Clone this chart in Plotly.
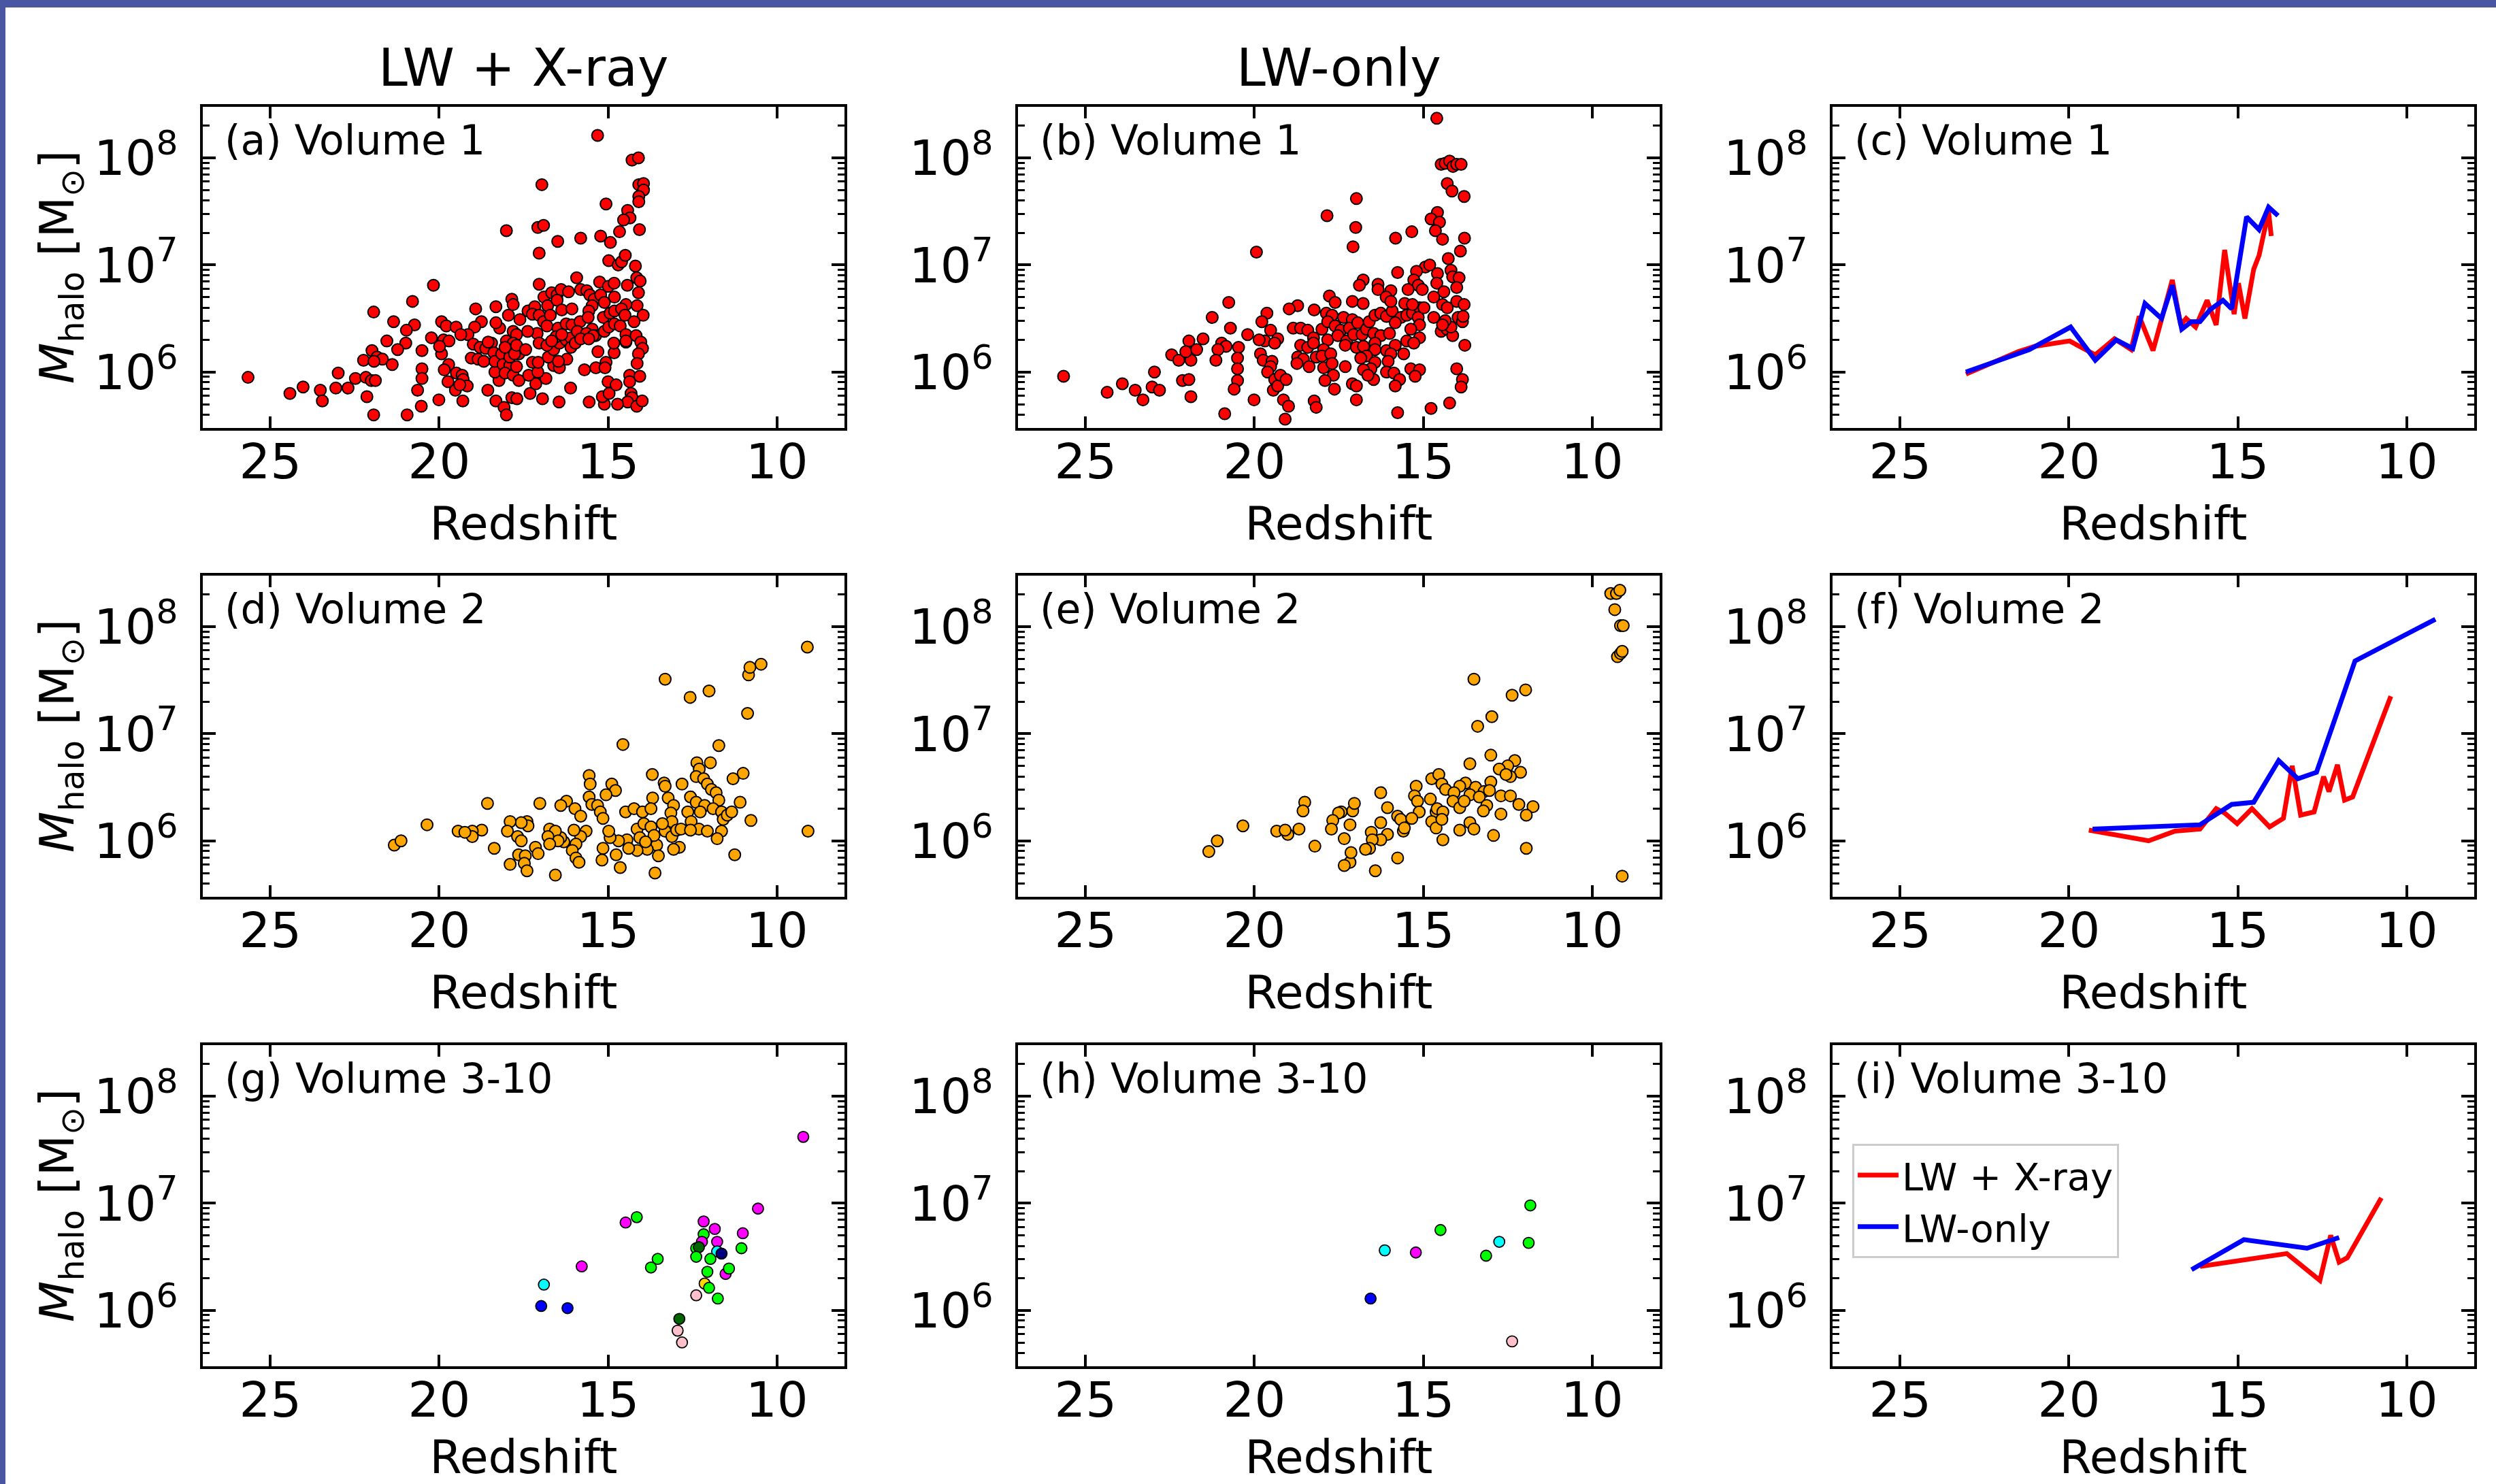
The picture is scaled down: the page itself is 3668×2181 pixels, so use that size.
import plotly.graph_objects as go

# ---------------- data (redshift z, log10 of halo mass in Msun) ----------------
a_z = [25.66, 18.01, 20.17, 20.79, 21.94, 21.35, 20.73, 20.97, 19.93, 19.79, 19.50, 20.23, 21.55, 20.99, 21.23,
       20.51, 21.99, 21.84, 21.68, 22.24, 21.93, 21.39, 19.93, 19.87, 19.71, 19.99, 19.72, 19.85, 20.51, 20.51,
       22.99, 22.48, 22.17, 22.01, 21.89, 23.06, 22.70, 24.03, 24.42, 23.52, 23.46, 22.14, 21.94, 20.95, 20.64,
       20.53, 20.01, 19.49, 19.32, 19.29, 19.17, 19.74, 19.52, 19.39, 19.30, 18.56, 18.32, 18.08, 18.01, 18.23,
       18.35, 18.92, 18.32, 18.75, 18.21, 18.32, 17.95, 17.85, 17.81, 18.95, 19.15, 18.99, 18.79, 18.62, 18.45,
       18.38, 19.05, 18.85, 18.68, 18.35, 18.15, 18.01, 17.91, 18.11, 17.91, 18.05, 17.81, 17.81, 17.85, 19.36,
       18.55,
       15.31, 14.29, 14.10, 16.96, 14.09, 13.95, 13.95, 14.09, 14.09, 15.06, 14.42, 14.35, 14.54, 17.08, 16.91,
       16.49, 15.81, 15.22, 14.93, 14.66, 14.07, 17.04, 14.98, 14.70, 14.60, 14.49, 14.19, 17.04, 15.93, 15.25,
       14.99, 14.82, 14.43, 14.15, 14.05, 14.10, 14.14, 13.96, 17.61, 17.37, 17.17, 16.90, 16.79, 16.67, 16.51,
       16.39, 16.17, 15.81, 15.63, 15.54, 15.41, 15.22, 15.11, 14.81, 14.47, 16.51, 16.37, 16.07, 15.47, 15.57,
       15.14, 14.94, 14.81, 14.60, 14.50, 14.23, 17.24, 17.04, 16.91, 16.71, 16.81, 16.48, 16.24, 16.07, 15.83,
       15.59, 15.47, 15.37, 15.11, 14.98, 14.81, 14.64, 14.47, 14.47, 14.17, 14.03, 13.98, 14.10, 14.14, 14.36,
       14.36, 14.06, 14.32, 14.29, 14.42, 14.15, 13.99, 14.72, 15.11, 15.17, 14.97, 15.00, 14.76, 15.56, 16.11,
       16.45, 16.94, 17.70, 17.31, 17.14, 16.84, 17.64, 17.35, 17.08, 16.61, 16.44, 16.22, 15.70, 15.36, 15.30,
       15.06, 15.09, 14.82, 14.83, 14.47, 17.71, 17.64, 17.91, 17.24, 17.07, 16.77, 16.61, 16.44, 16.24, 16.10,
       15.91, 15.64, 15.44, 17.10, 17.38, 17.04, 17.71, 17.81, 18.05, 17.77, 17.71, 17.44, 16.10, 15.97, 16.54,
       16.37, 15.81, 15.57, 16.81, 16.67, 16.47]
a_logm = [5.95, 7.32, 6.81, 6.66, 6.56, 6.47, 6.44, 6.39, 6.47, 6.43, 6.42, 6.32, 6.29, 6.27, 6.21,
          6.20, 6.20, 6.14, 6.12, 6.11, 6.10, 6.07, 6.17, 6.30, 6.29, 6.24, 6.07, 6.02, 6.03, 5.94,
          5.99, 5.94, 5.95, 5.92, 5.92, 5.85, 5.85, 5.86, 5.80, 5.83, 5.73, 5.77, 5.60, 5.60, 5.83,
          5.68, 5.74, 5.99, 5.97, 5.93, 5.87, 5.91, 5.83, 5.88, 5.73, 5.83, 5.73, 5.67, 5.60, 5.92,
          6.00, 6.59, 6.61, 6.47, 6.41, 6.46, 6.53, 6.68, 6.63, 6.42, 6.35, 6.26, 6.23, 6.22, 6.27,
          6.18, 6.13, 6.12, 6.10, 6.10, 6.17, 6.29, 6.19, 6.07, 6.06, 5.99, 6.38, 5.97, 5.76, 6.35,
          6.28,
          8.21, 7.98, 8.00, 7.75, 7.75, 7.76, 7.70, 7.64, 7.59, 7.57, 7.51, 7.44, 7.42, 7.35, 7.37,
          7.22, 7.25, 7.27, 7.21, 7.31, 7.33, 7.11, 7.04, 7.00, 7.03, 7.09, 6.99, 6.82, 6.88, 6.84,
          6.80, 6.83, 6.81, 6.88, 6.85, 6.74, 6.62, 6.53, 6.49, 6.57, 6.61, 6.70, 6.62, 6.74, 6.72,
          6.77, 6.75, 6.77, 6.76, 6.72, 6.68, 6.72, 6.65, 6.70, 6.63, 6.67, 6.58, 6.59, 6.62, 6.57,
          6.51, 6.55, 6.57, 6.59, 6.53, 6.47, 6.54, 6.53, 6.47, 6.53, 6.43, 6.41, 6.45, 6.44, 6.47,
          6.51, 6.40, 6.34, 6.38, 6.42, 6.45, 6.43, 6.35, 6.28, 6.34, 6.28, 6.22, 6.17, 6.08, 5.97,
          5.91, 5.96, 5.80, 5.76, 5.72, 5.68, 5.73, 5.70, 5.70, 5.77, 5.80, 5.91, 5.88, 5.72, 5.85,
          5.72, 5.75, 5.75, 5.80, 5.89, 5.94, 5.92, 5.97, 6.00, 6.06, 6.04, 6.12, 6.02, 6.04, 6.19,
          6.09, 6.04, 6.18, 6.27, 6.29, 6.05, 6.17, 6.14, 6.09, 6.09, 6.14, 6.21, 6.27, 6.30, 6.32,
          6.38, 6.36, 6.34, 6.36, 6.38, 6.27, 6.35, 6.27, 6.23, 6.17, 6.25, 6.21, 6.23, 6.27, 6.33,
          6.35, 6.31, 6.31, 6.25, 6.29, 6.10]

b_z = [25.65, 24.36, 23.91, 23.53, 23.30, 22.96, 23.03, 22.81, 22.13, 21.94, 21.88, 22.45, 22.24, 21.88, 21.94,
       22.03, 21.71, 21.52, 21.25, 20.76, 20.71, 20.20, 20.97, 20.84, 21.08, 21.14, 20.47, 20.50, 20.50, 20.50,
       20.60, 20.88, 20.01, 19.94, 19.63, 19.78, 19.52, 19.69, 19.86, 19.31, 19.40, 19.82, 19.74, 19.48, 19.52,
       19.61, 19.40, 19.44, 19.31, 19.23, 19.06, 19.14, 18.99, 19.09,
       18.72, 18.97, 18.23, 18.85, 18.63, 18.42, 18.63, 18.42, 18.25, 18.25, 18.00, 17.83, 17.95, 18.72, 18.55,
       18.38, 18.17, 18.00, 17.74, 17.95, 17.70, 17.66, 17.91, 17.63, 18.23, 18.17, 18.74,
       17.87, 17.70, 17.83, 17.61, 17.36, 17.10, 17.44, 17.19, 16.94, 17.53, 17.27, 17.06, 17.31, 16.98, 16.81,
       16.68, 16.60, 16.43, 16.26, 16.09, 15.92, 15.66, 15.83, 15.49, 15.32, 15.11, 15.15, 15.11, 15.37, 15.49,
       15.11, 15.28, 16.47, 16.26, 16.00, 16.43, 16.43, 16.77, 16.68, 16.85, 16.43, 16.55, 16.47, 16.77, 16.64,
       16.09, 15.83, 15.58, 15.96, 16.04, 16.09, 15.87, 15.70, 15.83, 15.37, 15.11, 15.24, 17.31, 17.10, 16.98,
       16.98, 15.76, 14.77, 14.22, 14.01, 13.84, 13.88, 13.77, 14.69, 14.47, 14.30, 14.13, 14.18, 14.35, 14.43,
       13.97, 13.84, 13.82,
       16.98, 17.85, 17.00, 17.08,
       14.60, 14.47, 14.35, 14.22, 14.12, 14.01, 13.88, 14.29, 14.15, 13.79, 14.58, 14.77, 14.52, 14.64, 14.43,
       15.34, 15.82, 13.78, 13.90, 14.26, 15.76, 14.94, 14.81, 15.20, 14.18, 14.13, 13.94, 14.58, 14.60, 15.28,
       15.15, 15.03, 15.45, 14.01, 14.39, 14.69, 16.78, 16.89, 16.34, 16.34, 15.96, 16.10, 15.96, 17.78, 17.61,
       17.10, 16.78, 14.01, 13.79, 14.43, 14.29, 15.55, 15.32, 14.98]
b_logm = [5.96, 5.81, 5.89, 5.83, 5.74, 6.00, 5.86, 5.83, 5.92, 5.93, 5.77, 6.16, 6.11, 6.11, 6.29,
          6.19, 6.21, 6.31, 6.51, 6.65, 6.41, 6.35, 6.27, 6.24, 6.21, 6.11, 6.23, 6.13, 6.03, 5.92,
          5.84, 5.61, 5.74, 7.12, 6.55, 6.47, 6.39, 6.29, 6.30, 6.31, 6.27, 6.17, 6.11, 6.10, 6.05,
          6.00, 5.93, 5.83, 5.87, 5.97, 5.93, 5.74, 5.68, 5.56,
          6.62, 6.59, 6.58, 6.41, 6.41, 6.39, 6.25, 6.23, 6.32, 6.27, 6.40, 6.30, 6.21, 6.14, 6.12,
          6.05, 6.14, 6.15, 6.17, 6.04, 6.08, 5.97, 5.92, 5.84, 5.73, 5.67, 6.08,
          6.55, 6.53, 6.47, 6.43, 6.51, 6.49, 6.39, 6.41, 6.46, 6.34, 6.29, 6.35, 6.25, 6.23, 6.35,
          6.40, 6.47, 6.53, 6.55, 6.52, 6.57, 6.51, 6.46, 6.53, 6.55, 6.60, 6.51, 6.44, 6.40, 6.29,
          6.32, 6.27, 6.36, 6.34, 6.36, 6.27, 6.21, 6.24, 6.15, 6.13, 6.09, 6.03, 5.93, 6.02, 5.97,
          6.20, 6.25, 6.17, 6.17, 6.10, 6.00, 5.99, 5.93, 5.87, 6.03, 6.02, 5.96, 6.05, 5.89, 5.87,
          5.74, 5.62, 5.66, 5.71, 6.03, 5.93, 5.86, 6.25, 6.51, 6.38, 6.40, 6.34, 6.42, 6.48, 6.44,
          6.51, 6.47, 6.52,
          7.62, 7.46, 7.35, 7.17,
          8.37, 7.94, 7.95, 7.97, 7.92, 7.94, 7.94, 7.76, 7.69, 7.64, 7.49, 7.43, 7.40, 7.32, 7.24,
          7.31, 7.25, 7.25, 7.13, 7.06, 6.93, 6.98, 7.00, 6.94, 6.95, 6.89, 6.88, 6.92, 6.83, 6.86,
          6.81, 6.77, 6.77, 6.79, 6.75, 6.70, 6.86, 6.81, 6.82, 6.77, 6.76, 6.70, 6.66, 6.71, 6.65,
          6.66, 6.64, 6.66, 6.63, 6.63, 6.60, 6.64, 6.63, 6.60]

d_z = [9.10, 10.84, 10.80, 10.47, 13.31, 12.01, 12.57, 10.87, 14.56, 11.72, 12.37, 11.97, 12.30, 12.39, 11.00,
       11.30, 15.56, 15.53, 13.69, 13.34, 13.31, 12.81, 14.89, 14.78, 12.17, 12.06, 11.94, 11.80, 11.72, 15.06,
       15.56, 15.48, 13.68, 13.22, 13.06, 12.56, 18.57, 17.02, 16.23, 16.40, 15.98, 15.31, 15.23, 15.15, 15.81,
       14.48, 14.23, 13.98, 13.73, 13.14, 13.11, 12.64, 12.39, 12.14, 12.27, 11.89, 11.64, 11.59, 11.47, 11.34,
       11.09, 12.54, 12.31, 10.77, 12.06, 11.64, 9.08, 11.77, 11.25, 12.89, 13.06, 13.56, 13.51, 13.61, 13.84,
       14.14, 14.44, 14.39, 14.69, 14.76, 14.64, 15.15, 15.18, 14.94, 14.98, 14.14, 13.94, 13.73, 13.64, 13.31,
       13.39, 13.11, 12.97, 12.84, 12.56, 15.65, 15.81, 16.01, 15.95, 16.31, 16.40, 16.06, 15.95, 15.86, 16.73,
       16.56, 16.48, 16.78, 16.73, 16.56, 17.15, 17.07, 17.40, 17.37, 17.57, 17.90, 17.98, 17.68, 17.57, 17.65,
       17.45, 17.90, 17.48, 17.40, 18.37, 18.74, 19.02, 19.02, 19.44, 19.24, 20.36, 21.33, 21.13, 14.06, 13.89]
d_logm = [7.81, 7.55, 7.62, 7.65, 7.51, 7.40, 7.34, 7.19, 6.90, 6.89, 6.73, 6.73, 6.67, 6.60, 6.63,
          6.58, 6.61, 6.53, 6.62, 6.54, 6.51, 6.53, 6.53, 6.47, 6.58, 6.53, 6.48, 6.45, 6.38, 6.43,
          6.41, 6.34, 6.40, 6.40, 6.33, 6.41, 6.35, 6.35, 6.37, 6.33, 6.30, 6.33, 6.27, 6.21, 6.23,
          6.27, 6.30, 6.27, 6.30, 6.26, 6.18, 6.27, 6.36, 6.33, 6.27, 6.30, 6.27, 6.20, 6.24, 6.27,
          6.36, 6.18, 6.11, 6.19, 6.09, 6.09, 6.09, 6.02, 5.87, 5.94, 5.92, 5.96, 5.86, 5.70, 5.92,
          5.91, 6.01, 5.93, 6.00, 5.87, 5.75, 5.93, 5.82, 6.03, 6.09, 6.11, 6.16, 6.13, 6.05, 6.09,
          6.16, 6.04, 6.10, 6.11, 6.10, 6.09, 6.04, 6.10, 5.97, 5.99, 6.03, 5.91, 5.84, 5.80, 6.11,
          6.09, 6.00, 6.04, 5.97, 5.68, 5.94, 5.88, 6.18, 6.14, 6.17, 6.18, 6.09, 6.04, 6.00, 5.87,
          5.86, 5.78, 5.79, 5.72, 5.93, 6.10, 6.09, 6.04, 6.09, 6.08, 6.15, 5.96, 6.00, 6.03, 5.99]

e_z = [9.45, 9.28, 9.18, 9.33, 9.16, 9.08, 9.25, 9.16, 9.11, 9.11, 13.50, 11.97, 12.37, 12.97, 13.39,
       13.00, 13.62, 12.29, 12.50, 12.75, 12.12, 12.42, 12.55, 14.75, 14.54, 14.45, 15.21, 13.00, 13.75, 13.92,
       14.34, 13.45, 13.20, 13.04, 14.09, 13.62, 14.79, 15.26, 15.17, 15.12, 14.12, 13.92, 13.79, 13.34, 13.12,
       13.22, 12.70, 12.42, 12.70, 12.17, 11.75, 11.95, 16.26, 16.06, 15.76, 15.67, 15.34, 14.62, 14.59, 14.42,
       14.75, 14.62, 14.45, 14.42, 15.59, 15.56, 16.26, 16.06, 16.26, 16.54, 16.51, 16.59, 16.71, 13.92, 13.62,
       13.50, 12.92, 11.95, 15.76, 16.42, 17.17, 17.34, 17.14, 17.34, 17.17, 17.09, 17.04, 17.43, 17.51, 17.68,
       17.72, 18.51, 18.56, 18.68, 18.21, 19.01, 19.34, 19.09, 20.34, 21.10, 21.35]
e_logm = [8.31, 8.31, 8.34, 8.16, 8.01, 8.01, 7.72, 7.75, 7.77, 5.67, 7.51, 7.41, 7.36, 7.16, 7.07,
          6.80, 6.72, 6.75, 6.70, 6.67, 6.64, 6.60, 6.62, 6.58, 6.62, 6.53, 6.51, 6.55, 6.54, 6.51,
          6.48, 6.50, 6.46, 6.47, 6.45, 6.43, 6.39, 6.42, 6.37, 6.27, 6.37, 6.31, 6.37, 6.41, 6.33,
          6.28, 6.42, 6.42, 6.25, 6.34, 6.32, 6.24, 6.45, 6.31, 6.23, 6.20, 6.21, 6.27, 6.30, 6.27,
          6.18, 6.12, 6.20, 6.01, 6.09, 6.12, 6.17, 6.06, 6.01, 6.08, 6.01, 5.93, 5.92, 6.10, 6.17,
          6.11, 6.05, 5.93, 5.84, 5.72, 5.80, 5.77, 5.89, 6.02, 6.15, 6.28, 6.35, 6.27, 6.26, 6.19,
          6.11, 6.36, 6.28, 6.11, 5.95, 6.06, 6.09, 6.10, 6.14, 6.00, 5.90]

g_z = [9.22, 10.56, 14.48, 14.15, 12.17, 12.17, 11.84, 12.22, 11.77, 11.01, 11.05, 12.39, 12.31, 12.39, 11.77,
       11.64, 11.97, 13.53, 13.73, 15.78, 12.06, 11.52, 11.42, 12.14, 12.01, 12.39, 11.75, 16.90, 16.98, 16.20,
       12.89, 12.94, 12.81]
g_logm = [7.62, 6.95, 6.82, 6.87, 6.83, 6.71, 6.76, 6.64, 6.64, 6.72, 6.58, 6.58, 6.59, 6.50, 6.55,
          6.53, 6.48, 6.48, 6.40, 6.41, 6.36, 6.34, 6.39, 6.25, 6.21, 6.14, 6.11, 6.24, 6.04, 6.02,
          5.92, 5.81, 5.70]
g_color = ["magenta", "magenta", "magenta", "lime", "magenta", "lime", "magenta", "magenta", "magenta", "magenta",
           "lime", "lime", "darkgreen", "lime", "cyan", "navy", "lime", "lime", "lime", "magenta",
           "lime", "magenta", "lime", "gold", "lime", "pink", "lime", "cyan", "blue", "blue",
           "darkgreen", "pink", "pink"]

h_z = [11.83, 14.49, 12.75, 11.88, 16.14, 15.22, 13.14, 16.56, 12.37]
h_logm = [6.98, 6.75, 6.64, 6.63, 6.56, 6.54, 6.51, 6.11, 5.71]
h_color = ["lime", "lime", "cyan", "lime", "cyan", "magenta", "lime", "blue", "pink"]

c_xray_z = [23.05, 21.50, 21.01, 19.98, 19.22, 18.65, 18.16, 17.92, 17.51, 16.94, 16.69, 16.53, 16.25, 15.91,
            15.64, 15.39, 15.11, 14.98, 14.79, 14.53, 14.37, 14.09, 14.01]
c_xray_logm = [5.98, 6.19, 6.24, 6.29, 6.16, 6.31, 6.21, 6.52, 6.20, 6.86, 6.44, 6.50, 6.42, 6.67,
               6.44, 7.14, 6.54, 6.83, 6.50, 6.96, 7.09, 7.50, 7.27]
c_lw_z = [23.05, 22.31, 21.17, 19.95, 19.22, 18.60, 18.11, 17.75, 17.26, 16.94, 16.66, 16.37, 16.12, 15.83,
          15.44, 15.18, 14.74, 14.37, 14.09, 13.81]
c_lw_logm = [6.00, 6.08, 6.21, 6.42, 6.11, 6.30, 6.22, 6.64, 6.50, 6.81, 6.40, 6.47, 6.47, 6.58,
             6.67, 6.59, 7.45, 7.33, 7.54, 7.46]

f_xray_z = [19.41, 17.64, 16.86, 16.12, 15.64, 15.39, 15.02, 14.58, 14.06, 13.65, 13.39, 13.14, 12.74, 12.46,
            12.30, 12.05, 11.84, 11.60, 10.47]
f_xray_logm = [6.10, 6.00, 6.09, 6.11, 6.30, 6.26, 6.16, 6.30, 6.13, 6.21, 6.70, 6.24, 6.27, 6.60,
               6.46, 6.71, 6.38, 6.41, 7.35]
f_lw_z = [19.30, 17.18, 16.12, 15.18, 14.53, 13.79, 13.22, 12.67, 11.53, 9.15]
f_lw_logm = [6.11, 6.13, 6.15, 6.34, 6.36, 6.75, 6.58, 6.64, 7.68, 8.07]

i_xray_z = [16.12, 13.55, 12.57, 12.25, 12.00, 11.76, 10.75]
i_xray_logm = [6.41, 6.53, 6.28, 6.70, 6.45, 6.49, 7.05]
i_lw_z = [16.37, 14.82, 12.95, 12.00]
i_lw_logm = [6.38, 6.66, 6.58, 6.68]

col_titles = ["LW + X-ray", "LW-only"]
panel_labels = ["(a) Volume 1", "(b) Volume 1", "(c) Volume 1",
                "(d) Volume 2", "(e) Volume 2", "(f) Volume 2",
                "(g) Volume 3-10", "(h) Volume 3-10", "(i) Volume 3-10"]
x_ticks = [25, 20, 15, 10]
y_ticks = [1e6, 1e7, 1e8]
y_ticktext = ["10<sup>6</sup>", "10<sup>7</sup>", "10<sup>8</sup>"]
series_names = ["LW + X-ray", "LW-only"]

# ---------------- layout constants ----------------
FIG_W, FIG_H = 3668, 2181
COL_LEFT = [298, 1496, 2693]
ROW_TOP = [157, 846, 1536]
AX_W, AX_H = 943, 472
FONT = "DejaVu Sans"
RED, BLUE = "#ff0000", "#0000ff"
LINE_W = 7

fig = go.Figure()


def names(k):
    s = "" if k == 0 else str(k + 1)
    return "x" + s, "y" + s, "xaxis" + s, "yaxis" + s


def to_mass(logm):
    return [10 ** v for v in logm]


def scatter(k, z, logm, color, size, lw):
    xa, ya, _, _ = names(k)
    fig.add_trace(go.Scatter(x=z, y=to_mass(logm), mode="markers", xaxis=xa, yaxis=ya,
                             marker=dict(color=color, size=size, line=dict(color="black", width=lw)),
                             showlegend=False))


def line(k, z, logm, color, name, show):
    xa, ya, _, _ = names(k)
    fig.add_trace(go.Scatter(x=z, y=to_mass(logm), mode="lines", xaxis=xa, yaxis=ya, name=name,
                             line=dict(color=color, width=LINE_W), showlegend=show))


scatter(0, a_z, a_logm, RED, 17, 2)
scatter(1, b_z, b_logm, RED, 17, 2)
line(2, c_xray_z, c_xray_logm, RED, series_names[0], False)
line(2, c_lw_z, c_lw_logm, BLUE, series_names[1], False)
scatter(3, d_z, d_logm, "#ffa500", 17, 2)
scatter(4, e_z, e_logm, "#ffa500", 17, 2)
line(5, f_xray_z, f_xray_logm, RED, series_names[0], False)
line(5, f_lw_z, f_lw_logm, BLUE, series_names[1], False)
scatter(6, g_z, g_logm, g_color, 16, 1.8)
scatter(7, h_z, h_logm, h_color, 16, 1.8)
line(8, i_xray_z, i_xray_logm, RED, series_names[0], True)
line(8, i_lw_z, i_lw_logm, BLUE, series_names[1], True)

minor_vals = [m * 10 ** e for e in (5, 6, 7, 8) for m in range(2, 10) if 3e5 <= m * 10 ** e <= 3e8]

layout = {}
annotations = []
for k in range(9):
    r, c = divmod(k, 3)
    xa, ya, xk, yk = names(k)
    x0 = COL_LEFT[c] / FIG_W
    x1 = (COL_LEFT[c] + AX_W) / FIG_W
    y1 = 1 - ROW_TOP[r] / FIG_H
    y0 = 1 - (ROW_TOP[r] + AX_H) / FIG_H
    common = dict(ticks="inside", tickcolor="black", tickwidth=3.5, showline=True, linecolor="black",
                  linewidth=4, mirror="ticks", showgrid=False, zeroline=False, automargin=False)
    layout[xk] = dict(domain=[x0, x1], anchor=ya, range=[27, 8], tickmode="array", tickvals=x_ticks,
                      ticktext=[str(t) for t in x_ticks], ticklen=17,
                      tickfont=dict(size=72, family=FONT, color="black"), ticklabelstandoff=-16,
                      title=dict(text="Redshift", font=dict(size=68, family=FONT, color="black"), standoff=27),
                      **common)
    layout[yk] = dict(domain=[y0, y1], anchor=xa, type="log", range=[5.4771, 8.4771], tickmode="array",
                      tickvals=y_ticks, ticktext=y_ticktext, ticklen=19,
                      tickfont=dict(size=72, family=FONT, color="black"), ticklabelstandoff=18,
                      minor=dict(ticks="inside", ticklen=10, tickwidth=3, tickcolor="black",
                                 tickmode="array", tickvals=minor_vals, showgrid=False),
                      **common)
    annotations.append(dict(text=panel_labels[k], xref="paper", yref="paper",
                            x=(COL_LEFT[c] + 30) / FIG_W, y=1 - (ROW_TOP[r] + 49) / FIG_H,
                            xanchor="left", yanchor="middle", showarrow=False,
                            font=dict(size=60, family=FONT, color="black")))
    if c == 0:
        annotations.append(dict(text="<i>M</i><sub>halo</sub> [M<sub>\u2299</sub>]", xref="paper", yref="paper",
                                x=89 / FIG_W, y=1 - (ROW_TOP[r] + AX_H / 2) / FIG_H, textangle=-90,
                                xanchor="center", yanchor="middle", showarrow=False,
                                font=dict(size=70, family=FONT, color="black")))

for c, t in enumerate(col_titles):
    annotations.append(dict(text=t, xref="paper", yref="paper", x=(COL_LEFT[c] + AX_W / 2) / FIG_W,
                            y=1 - 99 / FIG_H, xanchor="center", yanchor="middle", showarrow=False,
                            font=dict(size=77, family=FONT, color="black")))

frame = "#4a56a2"
shapes = [dict(type="rect", xref="paper", yref="paper", x0=0, x1=1, y0=1 - 11 / FIG_H, y1=1,
               fillcolor=frame, line=dict(width=0), layer="above"),
          dict(type="rect", xref="paper", yref="paper", x0=0, x1=8 / FIG_W, y0=0, y1=1,
               fillcolor=frame, line=dict(width=0), layer="above")]

fig.update_layout(width=FIG_W, height=FIG_H, margin=dict(l=0, r=0, t=0, b=0),
                  paper_bgcolor="white", plot_bgcolor="white",
                  font=dict(family=FONT, color="black"),
                  annotations=annotations, shapes=shapes,
                  legend=dict(x=2722 / FIG_W, y=1 - 1681 / FIG_H, xanchor="left", yanchor="top",
                              bgcolor="white", bordercolor="#cccccc", borderwidth=3,
                              font=dict(size=56, family=FONT, color="black"), itemwidth=60),
                  **layout)

fig.write_html("out.html")
